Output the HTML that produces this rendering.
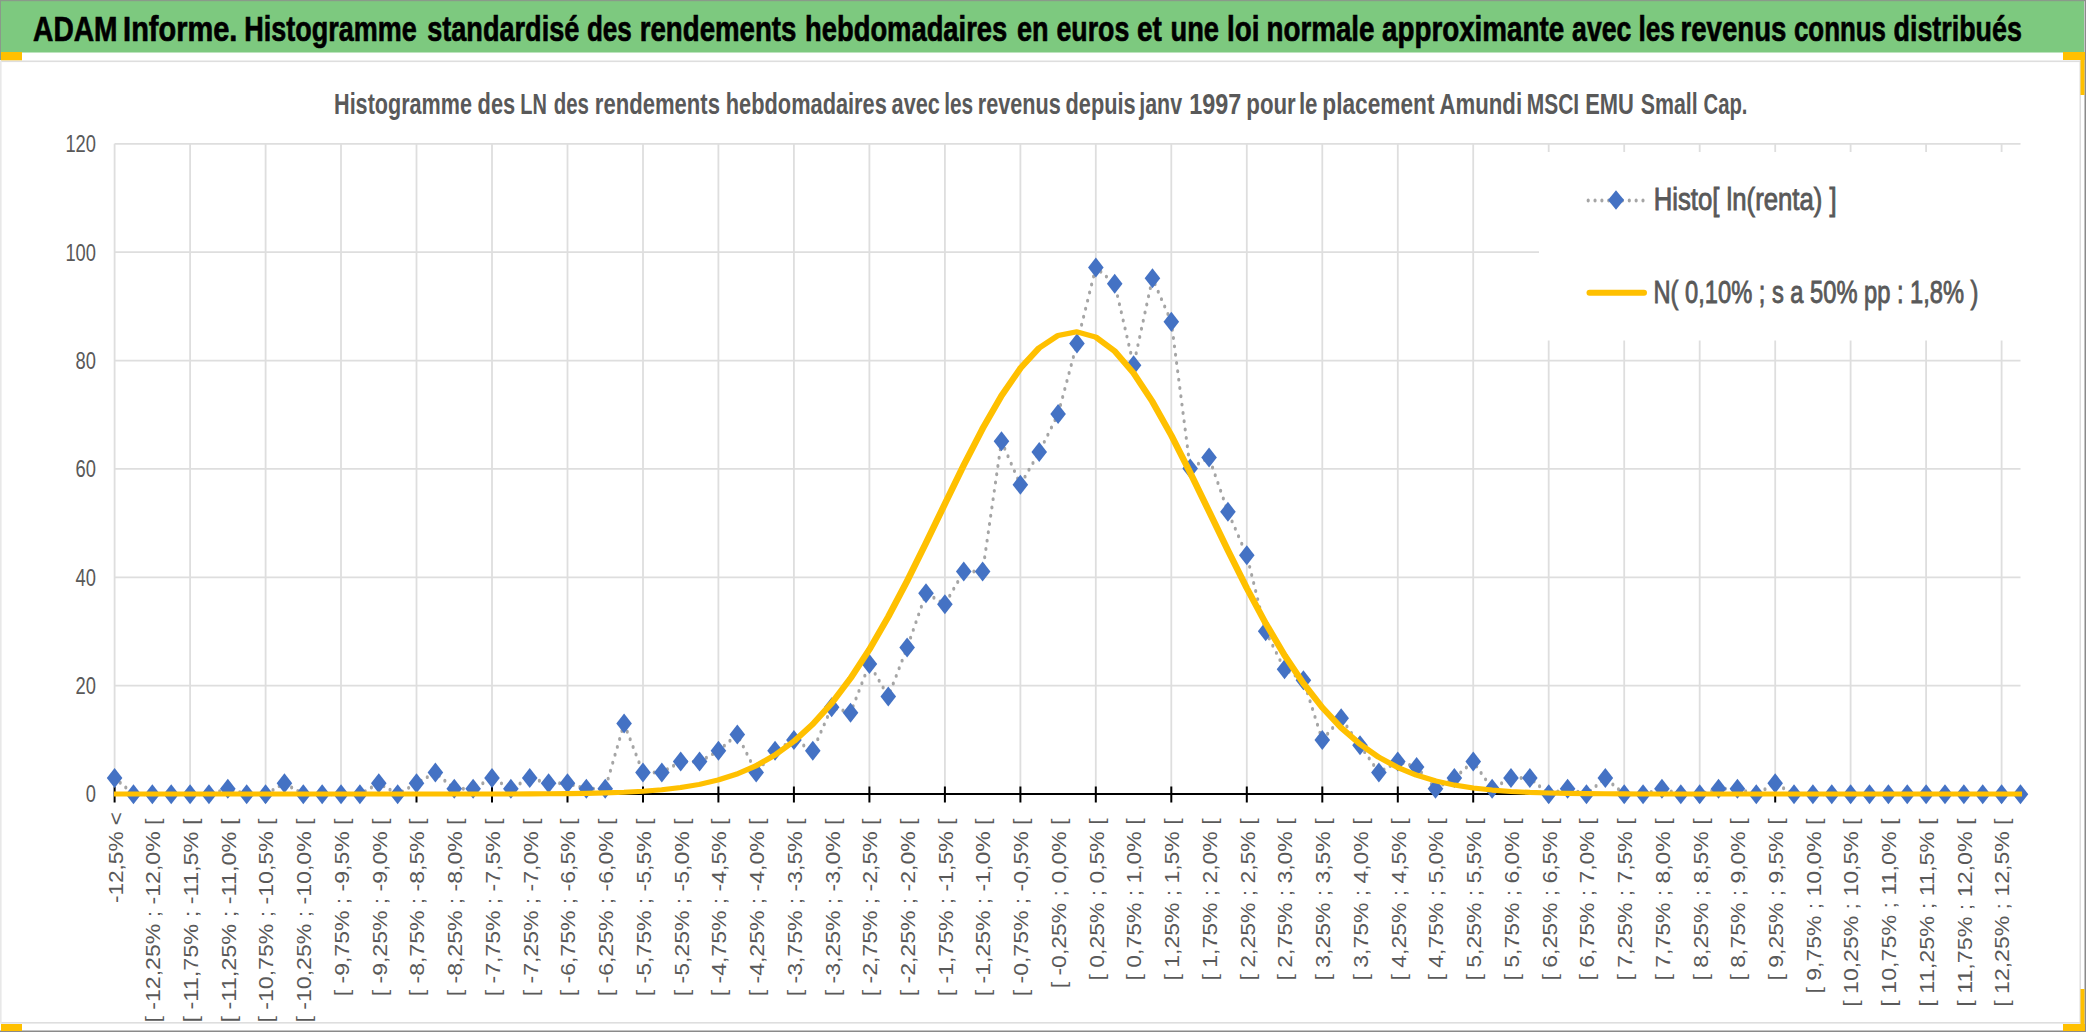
<!DOCTYPE html>
<html><head><meta charset="utf-8"><style>
html,body{margin:0;padding:0;width:2086px;height:1032px;overflow:hidden;background:#fff;font-family:"Liberation Sans",sans-serif;}
</style></head><body>
<svg width="2086" height="1032" viewBox="0 0 2086 1032" style="position:absolute;left:0;top:0">
<rect x="0" y="0" width="2086" height="1032" fill="#ffffff"/>
<rect x="1" y="1" width="2083" height="51.5" fill="#7DC97F"/>
<rect x="0" y="0" width="2086" height="1.2" fill="#8A9A8A"/>
<rect x="0" y="0" width="1" height="60" fill="#8A9A8A"/>
<rect x="2084.5" y="0" width="1.5" height="1032" fill="#8A8A8A"/>
<rect x="0" y="1030.5" width="2086" height="1.5" fill="#8A8A8A"/>
<rect x="1" y="60.5" width="2079.5" height="1.6" fill="#DEDEDE"/>
<rect x="1" y="1022" width="2079.5" height="1.6" fill="#DEDEDE"/>
<rect x="2079.5" y="60.5" width="1.5" height="963" fill="#DEDEDE"/>
<rect x="0" y="60.5" width="1.6" height="963" fill="#E8E8E8"/>
<rect x="1" y="52" width="21" height="8.3" fill="#FFC000"/>
<rect x="2063" y="52" width="22" height="8" fill="#FFC000"/>
<rect x="2080.5" y="52" width="4" height="43" fill="#FFC000"/>
<rect x="1" y="1024" width="21" height="7" fill="#FFC000"/>
<rect x="2063" y="1024" width="22" height="7" fill="#FFC000"/>
<rect x="2080.5" y="989" width="4" height="42" fill="#FFC000"/>
<text x="33.08" y="41.3" font-family="Liberation Sans" font-weight="bold" font-size="35.5" fill="#000" stroke="#000" stroke-width="0.7" textLength="84.42" lengthAdjust="spacingAndGlyphs">ADAM</text>
<text x="123.08" y="41.3" font-family="Liberation Sans" font-weight="bold" font-size="35.5" fill="#000" stroke="#000" stroke-width="0.7" textLength="114.26" lengthAdjust="spacingAndGlyphs">Informe.</text>
<text x="244.34" y="41.3" font-family="Liberation Sans" font-weight="bold" font-size="35.5" fill="#000" stroke="#000" stroke-width="0.7" textLength="172.32" lengthAdjust="spacingAndGlyphs">Histogramme</text>
<text x="427.14" y="41.3" font-family="Liberation Sans" font-weight="bold" font-size="35.5" fill="#000" stroke="#000" stroke-width="0.7" textLength="152.20" lengthAdjust="spacingAndGlyphs">standardisé</text>
<text x="586.92" y="41.3" font-family="Liberation Sans" font-weight="bold" font-size="35.5" fill="#000" stroke="#000" stroke-width="0.7" textLength="44.84" lengthAdjust="spacingAndGlyphs">des</text>
<text x="639.76" y="41.3" font-family="Liberation Sans" font-weight="bold" font-size="35.5" fill="#000" stroke="#000" stroke-width="0.7" textLength="156.64" lengthAdjust="spacingAndGlyphs">rendements</text>
<text x="805.08" y="41.3" font-family="Liberation Sans" font-weight="bold" font-size="35.5" fill="#000" stroke="#000" stroke-width="0.7" textLength="202.16" lengthAdjust="spacingAndGlyphs">hebdomadaires</text>
<text x="1016.92" y="41.3" font-family="Liberation Sans" font-weight="bold" font-size="35.5" fill="#000" stroke="#000" stroke-width="0.7" textLength="31.58" lengthAdjust="spacingAndGlyphs">en</text>
<text x="1056.50" y="41.3" font-family="Liberation Sans" font-weight="bold" font-size="35.5" fill="#000" stroke="#000" stroke-width="0.7" textLength="72.74" lengthAdjust="spacingAndGlyphs">euros</text>
<text x="1136.98" y="41.3" font-family="Liberation Sans" font-weight="bold" font-size="35.5" fill="#000" stroke="#000" stroke-width="0.7" textLength="24.84" lengthAdjust="spacingAndGlyphs">et</text>
<text x="1170.50" y="41.3" font-family="Liberation Sans" font-weight="bold" font-size="35.5" fill="#000" stroke="#000" stroke-width="0.7" textLength="48.48" lengthAdjust="spacingAndGlyphs">une</text>
<text x="1226.98" y="41.3" font-family="Liberation Sans" font-weight="bold" font-size="35.5" fill="#000" stroke="#000" stroke-width="0.7" textLength="32.46" lengthAdjust="spacingAndGlyphs">loi</text>
<text x="1266.50" y="41.3" font-family="Liberation Sans" font-weight="bold" font-size="35.5" fill="#000" stroke="#000" stroke-width="0.7" textLength="108.00" lengthAdjust="spacingAndGlyphs">normale</text>
<text x="1382.02" y="41.3" font-family="Liberation Sans" font-weight="bold" font-size="35.5" fill="#000" stroke="#000" stroke-width="0.7" textLength="182.06" lengthAdjust="spacingAndGlyphs">approximante</text>
<text x="1572.08" y="41.3" font-family="Liberation Sans" font-weight="bold" font-size="35.5" fill="#000" stroke="#000" stroke-width="0.7" textLength="59.26" lengthAdjust="spacingAndGlyphs">avec</text>
<text x="1638.40" y="41.3" font-family="Liberation Sans" font-weight="bold" font-size="35.5" fill="#000" stroke="#000" stroke-width="0.7" textLength="36.42" lengthAdjust="spacingAndGlyphs">les</text>
<text x="1680.50" y="41.3" font-family="Liberation Sans" font-weight="bold" font-size="35.5" fill="#000" stroke="#000" stroke-width="0.7" textLength="105.90" lengthAdjust="spacingAndGlyphs">revenus</text>
<text x="1793.98" y="41.3" font-family="Liberation Sans" font-weight="bold" font-size="35.5" fill="#000" stroke="#000" stroke-width="0.7" textLength="92.00" lengthAdjust="spacingAndGlyphs">connus</text>
<text x="1893.56" y="41.3" font-family="Liberation Sans" font-weight="bold" font-size="35.5" fill="#000" stroke="#000" stroke-width="0.7" textLength="128.30" lengthAdjust="spacingAndGlyphs">distribués</text>
<text x="334.04" y="113.9" font-family="Liberation Sans" font-weight="bold" font-size="28.8" fill="#595959" textLength="137.98" lengthAdjust="spacingAndGlyphs">Histogramme</text>
<text x="477.56" y="113.9" font-family="Liberation Sans" font-weight="bold" font-size="28.8" fill="#595959" textLength="37.64" lengthAdjust="spacingAndGlyphs">des</text>
<text x="520.28" y="113.9" font-family="Liberation Sans" font-weight="bold" font-size="28.8" fill="#595959" textLength="26.58" lengthAdjust="spacingAndGlyphs">LN</text>
<text x="553.70" y="113.9" font-family="Liberation Sans" font-weight="bold" font-size="28.8" fill="#595959" textLength="35.22" lengthAdjust="spacingAndGlyphs">des</text>
<text x="594.80" y="113.9" font-family="Liberation Sans" font-weight="bold" font-size="28.8" fill="#595959" textLength="125.12" lengthAdjust="spacingAndGlyphs">rendements</text>
<text x="725.80" y="113.9" font-family="Liberation Sans" font-weight="bold" font-size="28.8" fill="#595959" textLength="161.02" lengthAdjust="spacingAndGlyphs">hebdomadaires</text>
<text x="891.56" y="113.9" font-family="Liberation Sans" font-weight="bold" font-size="28.8" fill="#595959" textLength="48.36" lengthAdjust="spacingAndGlyphs">avec</text>
<text x="944.18" y="113.9" font-family="Liberation Sans" font-weight="bold" font-size="28.8" fill="#595959" textLength="29.02" lengthAdjust="spacingAndGlyphs">les</text>
<text x="977.80" y="113.9" font-family="Liberation Sans" font-weight="bold" font-size="28.8" fill="#595959" textLength="83.02" lengthAdjust="spacingAndGlyphs">revenus</text>
<text x="1065.56" y="113.9" font-family="Liberation Sans" font-weight="bold" font-size="28.8" fill="#595959" textLength="70.12" lengthAdjust="spacingAndGlyphs">depuis</text>
<text x="1139.26" y="113.9" font-family="Liberation Sans" font-weight="bold" font-size="28.8" fill="#595959" textLength="42.86" lengthAdjust="spacingAndGlyphs">janv</text>
<text x="1189.14" y="113.9" font-family="Liberation Sans" font-weight="bold" font-size="28.8" fill="#595959" textLength="52.06" lengthAdjust="spacingAndGlyphs">1997</text>
<text x="1246.28" y="113.9" font-family="Liberation Sans" font-weight="bold" font-size="28.8" fill="#595959" textLength="49.50" lengthAdjust="spacingAndGlyphs">pour</text>
<text x="1298.90" y="113.9" font-family="Liberation Sans" font-weight="bold" font-size="28.8" fill="#595959" textLength="18.64" lengthAdjust="spacingAndGlyphs">le</text>
<text x="1322.28" y="113.9" font-family="Liberation Sans" font-weight="bold" font-size="28.8" fill="#595959" textLength="112.22" lengthAdjust="spacingAndGlyphs">placement</text>
<text x="1439.46" y="113.9" font-family="Liberation Sans" font-weight="bold" font-size="28.8" fill="#595959" textLength="82.64" lengthAdjust="spacingAndGlyphs">Amundi</text>
<text x="1526.80" y="113.9" font-family="Liberation Sans" font-weight="bold" font-size="28.8" fill="#595959" textLength="52.30" lengthAdjust="spacingAndGlyphs">MSCI</text>
<text x="1585.14" y="113.9" font-family="Liberation Sans" font-weight="bold" font-size="28.8" fill="#595959" textLength="48.68" lengthAdjust="spacingAndGlyphs">EMU</text>
<text x="1640.80" y="113.9" font-family="Liberation Sans" font-weight="bold" font-size="28.8" fill="#595959" textLength="56.92" lengthAdjust="spacingAndGlyphs">Small</text>
<text x="1703.56" y="113.9" font-family="Liberation Sans" font-weight="bold" font-size="28.8" fill="#595959" textLength="43.92" lengthAdjust="spacingAndGlyphs">Cap.</text>
<line x1="114.6" y1="794.0" x2="2020.5" y2="794.0" stroke="#DEDEDE" stroke-width="1.8"/>
<line x1="114.6" y1="685.6" x2="2020.5" y2="685.6" stroke="#DEDEDE" stroke-width="1.8"/>
<line x1="114.6" y1="577.3" x2="2020.5" y2="577.3" stroke="#DEDEDE" stroke-width="1.8"/>
<line x1="114.6" y1="468.9" x2="2020.5" y2="468.9" stroke="#DEDEDE" stroke-width="1.8"/>
<line x1="114.6" y1="360.6" x2="2020.5" y2="360.6" stroke="#DEDEDE" stroke-width="1.8"/>
<line x1="114.6" y1="252.2" x2="2020.5" y2="252.2" stroke="#DEDEDE" stroke-width="1.8"/>
<line x1="114.6" y1="143.8" x2="2020.5" y2="143.8" stroke="#DEDEDE" stroke-width="1.8"/>
<line x1="114.6" y1="143.8" x2="114.6" y2="794.0" stroke="#DEDEDE" stroke-width="1.8"/>
<line x1="190.1" y1="143.8" x2="190.1" y2="794.0" stroke="#DEDEDE" stroke-width="1.8"/>
<line x1="265.6" y1="143.8" x2="265.6" y2="794.0" stroke="#DEDEDE" stroke-width="1.8"/>
<line x1="341.0" y1="143.8" x2="341.0" y2="794.0" stroke="#DEDEDE" stroke-width="1.8"/>
<line x1="416.5" y1="143.8" x2="416.5" y2="794.0" stroke="#DEDEDE" stroke-width="1.8"/>
<line x1="492.0" y1="143.8" x2="492.0" y2="794.0" stroke="#DEDEDE" stroke-width="1.8"/>
<line x1="567.5" y1="143.8" x2="567.5" y2="794.0" stroke="#DEDEDE" stroke-width="1.8"/>
<line x1="643.0" y1="143.8" x2="643.0" y2="794.0" stroke="#DEDEDE" stroke-width="1.8"/>
<line x1="718.4" y1="143.8" x2="718.4" y2="794.0" stroke="#DEDEDE" stroke-width="1.8"/>
<line x1="793.9" y1="143.8" x2="793.9" y2="794.0" stroke="#DEDEDE" stroke-width="1.8"/>
<line x1="869.4" y1="143.8" x2="869.4" y2="794.0" stroke="#DEDEDE" stroke-width="1.8"/>
<line x1="944.9" y1="143.8" x2="944.9" y2="794.0" stroke="#DEDEDE" stroke-width="1.8"/>
<line x1="1020.4" y1="143.8" x2="1020.4" y2="794.0" stroke="#DEDEDE" stroke-width="1.8"/>
<line x1="1095.8" y1="143.8" x2="1095.8" y2="794.0" stroke="#DEDEDE" stroke-width="1.8"/>
<line x1="1171.3" y1="143.8" x2="1171.3" y2="794.0" stroke="#DEDEDE" stroke-width="1.8"/>
<line x1="1246.8" y1="143.8" x2="1246.8" y2="794.0" stroke="#DEDEDE" stroke-width="1.8"/>
<line x1="1322.3" y1="143.8" x2="1322.3" y2="794.0" stroke="#DEDEDE" stroke-width="1.8"/>
<line x1="1397.8" y1="143.8" x2="1397.8" y2="794.0" stroke="#DEDEDE" stroke-width="1.8"/>
<line x1="1473.2" y1="143.8" x2="1473.2" y2="794.0" stroke="#DEDEDE" stroke-width="1.8"/>
<line x1="1548.7" y1="143.8" x2="1548.7" y2="794.0" stroke="#DEDEDE" stroke-width="1.8"/>
<line x1="1624.2" y1="143.8" x2="1624.2" y2="794.0" stroke="#DEDEDE" stroke-width="1.8"/>
<line x1="1699.7" y1="143.8" x2="1699.7" y2="794.0" stroke="#DEDEDE" stroke-width="1.8"/>
<line x1="1775.2" y1="143.8" x2="1775.2" y2="794.0" stroke="#DEDEDE" stroke-width="1.8"/>
<line x1="1850.6" y1="143.8" x2="1850.6" y2="794.0" stroke="#DEDEDE" stroke-width="1.8"/>
<line x1="1926.1" y1="143.8" x2="1926.1" y2="794.0" stroke="#DEDEDE" stroke-width="1.8"/>
<line x1="2001.6" y1="143.8" x2="2001.6" y2="794.0" stroke="#DEDEDE" stroke-width="1.8"/>
<rect x="1539" y="152" width="490" height="188.5" fill="#fff"/>
<text x="96" y="802.4" font-family="Liberation Sans" font-size="23.5" fill="#595959" text-anchor="end" transform="translate(96 0) scale(0.78 1) translate(-96 0)">0</text>
<text x="96" y="694.0" font-family="Liberation Sans" font-size="23.5" fill="#595959" text-anchor="end" transform="translate(96 0) scale(0.78 1) translate(-96 0)">20</text>
<text x="96" y="585.7" font-family="Liberation Sans" font-size="23.5" fill="#595959" text-anchor="end" transform="translate(96 0) scale(0.78 1) translate(-96 0)">40</text>
<text x="96" y="477.3" font-family="Liberation Sans" font-size="23.5" fill="#595959" text-anchor="end" transform="translate(96 0) scale(0.78 1) translate(-96 0)">60</text>
<text x="96" y="369.0" font-family="Liberation Sans" font-size="23.5" fill="#595959" text-anchor="end" transform="translate(96 0) scale(0.78 1) translate(-96 0)">80</text>
<text x="96" y="260.6" font-family="Liberation Sans" font-size="23.5" fill="#595959" text-anchor="end" transform="translate(96 0) scale(0.78 1) translate(-96 0)">100</text>
<text x="96" y="152.2" font-family="Liberation Sans" font-size="23.5" fill="#595959" text-anchor="end" transform="translate(96 0) scale(0.78 1) translate(-96 0)">120</text>
<line x1="114.6" y1="794.0" x2="2020.5" y2="794.0" stroke="#000" stroke-width="2.2"/>
<line x1="114.6" y1="786.5" x2="114.6" y2="802.5" stroke="#000" stroke-width="2"/>
<line x1="190.1" y1="786.5" x2="190.1" y2="802.5" stroke="#000" stroke-width="2"/>
<line x1="265.6" y1="786.5" x2="265.6" y2="802.5" stroke="#000" stroke-width="2"/>
<line x1="341.0" y1="786.5" x2="341.0" y2="802.5" stroke="#000" stroke-width="2"/>
<line x1="416.5" y1="786.5" x2="416.5" y2="802.5" stroke="#000" stroke-width="2"/>
<line x1="492.0" y1="786.5" x2="492.0" y2="802.5" stroke="#000" stroke-width="2"/>
<line x1="567.5" y1="786.5" x2="567.5" y2="802.5" stroke="#000" stroke-width="2"/>
<line x1="643.0" y1="786.5" x2="643.0" y2="802.5" stroke="#000" stroke-width="2"/>
<line x1="718.4" y1="786.5" x2="718.4" y2="802.5" stroke="#000" stroke-width="2"/>
<line x1="793.9" y1="786.5" x2="793.9" y2="802.5" stroke="#000" stroke-width="2"/>
<line x1="869.4" y1="786.5" x2="869.4" y2="802.5" stroke="#000" stroke-width="2"/>
<line x1="944.9" y1="786.5" x2="944.9" y2="802.5" stroke="#000" stroke-width="2"/>
<line x1="1020.4" y1="786.5" x2="1020.4" y2="802.5" stroke="#000" stroke-width="2"/>
<line x1="1095.8" y1="786.5" x2="1095.8" y2="802.5" stroke="#000" stroke-width="2"/>
<line x1="1171.3" y1="786.5" x2="1171.3" y2="802.5" stroke="#000" stroke-width="2"/>
<line x1="1246.8" y1="786.5" x2="1246.8" y2="802.5" stroke="#000" stroke-width="2"/>
<line x1="1322.3" y1="786.5" x2="1322.3" y2="802.5" stroke="#000" stroke-width="2"/>
<line x1="1397.8" y1="786.5" x2="1397.8" y2="802.5" stroke="#000" stroke-width="2"/>
<line x1="1473.2" y1="786.5" x2="1473.2" y2="802.5" stroke="#000" stroke-width="2"/>
<line x1="1548.7" y1="786.5" x2="1548.7" y2="802.5" stroke="#000" stroke-width="2"/>
<line x1="1624.2" y1="786.5" x2="1624.2" y2="802.5" stroke="#000" stroke-width="2"/>
<line x1="1699.7" y1="786.5" x2="1699.7" y2="802.5" stroke="#000" stroke-width="2"/>
<line x1="1775.2" y1="786.5" x2="1775.2" y2="802.5" stroke="#000" stroke-width="2"/>
<line x1="1850.6" y1="786.5" x2="1850.6" y2="802.5" stroke="#000" stroke-width="2"/>
<line x1="1926.1" y1="786.5" x2="1926.1" y2="802.5" stroke="#000" stroke-width="2"/>
<line x1="2001.6" y1="786.5" x2="2001.6" y2="802.5" stroke="#000" stroke-width="2"/>
<text transform="translate(123.4 812.0) rotate(-90)" font-family="Liberation Sans" font-size="19.5" fill="#595959" text-anchor="end" textLength="91.1" lengthAdjust="spacingAndGlyphs">-12,5% <</text>
<text transform="translate(160.1 818.5) rotate(-90)" font-family="Liberation Sans" font-size="19.5" fill="#595959" text-anchor="end" textLength="204.0" lengthAdjust="spacingAndGlyphs">[ -12,25% ; -12,0% [</text>
<text transform="translate(197.9 818.5) rotate(-90)" font-family="Liberation Sans" font-size="19.5" fill="#595959" text-anchor="end" textLength="204.0" lengthAdjust="spacingAndGlyphs">[ -11,75% ; -11,5% [</text>
<text transform="translate(235.6 818.5) rotate(-90)" font-family="Liberation Sans" font-size="19.5" fill="#595959" text-anchor="end" textLength="204.0" lengthAdjust="spacingAndGlyphs">[ -11,25% ; -11,0% [</text>
<text transform="translate(273.4 818.5) rotate(-90)" font-family="Liberation Sans" font-size="19.5" fill="#595959" text-anchor="end" textLength="204.0" lengthAdjust="spacingAndGlyphs">[ -10,75% ; -10,5% [</text>
<text transform="translate(311.1 818.5) rotate(-90)" font-family="Liberation Sans" font-size="19.5" fill="#595959" text-anchor="end" textLength="204.0" lengthAdjust="spacingAndGlyphs">[ -10,25% ; -10,0% [</text>
<text transform="translate(348.8 818.5) rotate(-90)" font-family="Liberation Sans" font-size="19.5" fill="#595959" text-anchor="end" textLength="177.8" lengthAdjust="spacingAndGlyphs">[ -9,75% ; -9,5% [</text>
<text transform="translate(386.6 818.5) rotate(-90)" font-family="Liberation Sans" font-size="19.5" fill="#595959" text-anchor="end" textLength="177.8" lengthAdjust="spacingAndGlyphs">[ -9,25% ; -9,0% [</text>
<text transform="translate(424.3 818.5) rotate(-90)" font-family="Liberation Sans" font-size="19.5" fill="#595959" text-anchor="end" textLength="177.8" lengthAdjust="spacingAndGlyphs">[ -8,75% ; -8,5% [</text>
<text transform="translate(462.1 818.5) rotate(-90)" font-family="Liberation Sans" font-size="19.5" fill="#595959" text-anchor="end" textLength="177.8" lengthAdjust="spacingAndGlyphs">[ -8,25% ; -8,0% [</text>
<text transform="translate(499.8 818.5) rotate(-90)" font-family="Liberation Sans" font-size="19.5" fill="#595959" text-anchor="end" textLength="177.8" lengthAdjust="spacingAndGlyphs">[ -7,75% ; -7,5% [</text>
<text transform="translate(537.5 818.5) rotate(-90)" font-family="Liberation Sans" font-size="19.5" fill="#595959" text-anchor="end" textLength="177.8" lengthAdjust="spacingAndGlyphs">[ -7,25% ; -7,0% [</text>
<text transform="translate(575.3 818.5) rotate(-90)" font-family="Liberation Sans" font-size="19.5" fill="#595959" text-anchor="end" textLength="177.8" lengthAdjust="spacingAndGlyphs">[ -6,75% ; -6,5% [</text>
<text transform="translate(613.0 818.5) rotate(-90)" font-family="Liberation Sans" font-size="19.5" fill="#595959" text-anchor="end" textLength="177.8" lengthAdjust="spacingAndGlyphs">[ -6,25% ; -6,0% [</text>
<text transform="translate(650.8 818.5) rotate(-90)" font-family="Liberation Sans" font-size="19.5" fill="#595959" text-anchor="end" textLength="177.8" lengthAdjust="spacingAndGlyphs">[ -5,75% ; -5,5% [</text>
<text transform="translate(688.5 818.5) rotate(-90)" font-family="Liberation Sans" font-size="19.5" fill="#595959" text-anchor="end" textLength="177.8" lengthAdjust="spacingAndGlyphs">[ -5,25% ; -5,0% [</text>
<text transform="translate(726.2 818.5) rotate(-90)" font-family="Liberation Sans" font-size="19.5" fill="#595959" text-anchor="end" textLength="177.8" lengthAdjust="spacingAndGlyphs">[ -4,75% ; -4,5% [</text>
<text transform="translate(764.0 818.5) rotate(-90)" font-family="Liberation Sans" font-size="19.5" fill="#595959" text-anchor="end" textLength="177.8" lengthAdjust="spacingAndGlyphs">[ -4,25% ; -4,0% [</text>
<text transform="translate(801.7 818.5) rotate(-90)" font-family="Liberation Sans" font-size="19.5" fill="#595959" text-anchor="end" textLength="177.8" lengthAdjust="spacingAndGlyphs">[ -3,75% ; -3,5% [</text>
<text transform="translate(839.5 818.5) rotate(-90)" font-family="Liberation Sans" font-size="19.5" fill="#595959" text-anchor="end" textLength="177.8" lengthAdjust="spacingAndGlyphs">[ -3,25% ; -3,0% [</text>
<text transform="translate(877.2 818.5) rotate(-90)" font-family="Liberation Sans" font-size="19.5" fill="#595959" text-anchor="end" textLength="177.8" lengthAdjust="spacingAndGlyphs">[ -2,75% ; -2,5% [</text>
<text transform="translate(914.9 818.5) rotate(-90)" font-family="Liberation Sans" font-size="19.5" fill="#595959" text-anchor="end" textLength="177.8" lengthAdjust="spacingAndGlyphs">[ -2,25% ; -2,0% [</text>
<text transform="translate(952.7 818.5) rotate(-90)" font-family="Liberation Sans" font-size="19.5" fill="#595959" text-anchor="end" textLength="177.8" lengthAdjust="spacingAndGlyphs">[ -1,75% ; -1,5% [</text>
<text transform="translate(990.4 818.5) rotate(-90)" font-family="Liberation Sans" font-size="19.5" fill="#595959" text-anchor="end" textLength="177.8" lengthAdjust="spacingAndGlyphs">[ -1,25% ; -1,0% [</text>
<text transform="translate(1028.2 818.5) rotate(-90)" font-family="Liberation Sans" font-size="19.5" fill="#595959" text-anchor="end" textLength="177.8" lengthAdjust="spacingAndGlyphs">[ -0,75% ; -0,5% [</text>
<text transform="translate(1065.9 818.5) rotate(-90)" font-family="Liberation Sans" font-size="19.5" fill="#595959" text-anchor="end" textLength="169.8" lengthAdjust="spacingAndGlyphs">[ -0,25% ; 0,0% [</text>
<text transform="translate(1103.6 818.5) rotate(-90)" font-family="Liberation Sans" font-size="19.5" fill="#595959" text-anchor="end" textLength="161.9" lengthAdjust="spacingAndGlyphs">[ 0,25% ; 0,5% [</text>
<text transform="translate(1141.4 818.5) rotate(-90)" font-family="Liberation Sans" font-size="19.5" fill="#595959" text-anchor="end" textLength="161.9" lengthAdjust="spacingAndGlyphs">[ 0,75% ; 1,0% [</text>
<text transform="translate(1179.1 818.5) rotate(-90)" font-family="Liberation Sans" font-size="19.5" fill="#595959" text-anchor="end" textLength="161.9" lengthAdjust="spacingAndGlyphs">[ 1,25% ; 1,5% [</text>
<text transform="translate(1216.9 818.5) rotate(-90)" font-family="Liberation Sans" font-size="19.5" fill="#595959" text-anchor="end" textLength="161.9" lengthAdjust="spacingAndGlyphs">[ 1,75% ; 2,0% [</text>
<text transform="translate(1254.6 818.5) rotate(-90)" font-family="Liberation Sans" font-size="19.5" fill="#595959" text-anchor="end" textLength="161.9" lengthAdjust="spacingAndGlyphs">[ 2,25% ; 2,5% [</text>
<text transform="translate(1292.3 818.5) rotate(-90)" font-family="Liberation Sans" font-size="19.5" fill="#595959" text-anchor="end" textLength="161.9" lengthAdjust="spacingAndGlyphs">[ 2,75% ; 3,0% [</text>
<text transform="translate(1330.1 818.5) rotate(-90)" font-family="Liberation Sans" font-size="19.5" fill="#595959" text-anchor="end" textLength="161.9" lengthAdjust="spacingAndGlyphs">[ 3,25% ; 3,5% [</text>
<text transform="translate(1367.8 818.5) rotate(-90)" font-family="Liberation Sans" font-size="19.5" fill="#595959" text-anchor="end" textLength="161.9" lengthAdjust="spacingAndGlyphs">[ 3,75% ; 4,0% [</text>
<text transform="translate(1405.6 818.5) rotate(-90)" font-family="Liberation Sans" font-size="19.5" fill="#595959" text-anchor="end" textLength="161.9" lengthAdjust="spacingAndGlyphs">[ 4,25% ; 4,5% [</text>
<text transform="translate(1443.3 818.5) rotate(-90)" font-family="Liberation Sans" font-size="19.5" fill="#595959" text-anchor="end" textLength="161.9" lengthAdjust="spacingAndGlyphs">[ 4,75% ; 5,0% [</text>
<text transform="translate(1481.0 818.5) rotate(-90)" font-family="Liberation Sans" font-size="19.5" fill="#595959" text-anchor="end" textLength="161.9" lengthAdjust="spacingAndGlyphs">[ 5,25% ; 5,5% [</text>
<text transform="translate(1518.8 818.5) rotate(-90)" font-family="Liberation Sans" font-size="19.5" fill="#595959" text-anchor="end" textLength="161.9" lengthAdjust="spacingAndGlyphs">[ 5,75% ; 6,0% [</text>
<text transform="translate(1556.5 818.5) rotate(-90)" font-family="Liberation Sans" font-size="19.5" fill="#595959" text-anchor="end" textLength="161.9" lengthAdjust="spacingAndGlyphs">[ 6,25% ; 6,5% [</text>
<text transform="translate(1594.3 818.5) rotate(-90)" font-family="Liberation Sans" font-size="19.5" fill="#595959" text-anchor="end" textLength="161.9" lengthAdjust="spacingAndGlyphs">[ 6,75% ; 7,0% [</text>
<text transform="translate(1632.0 818.5) rotate(-90)" font-family="Liberation Sans" font-size="19.5" fill="#595959" text-anchor="end" textLength="161.9" lengthAdjust="spacingAndGlyphs">[ 7,25% ; 7,5% [</text>
<text transform="translate(1669.7 818.5) rotate(-90)" font-family="Liberation Sans" font-size="19.5" fill="#595959" text-anchor="end" textLength="161.9" lengthAdjust="spacingAndGlyphs">[ 7,75% ; 8,0% [</text>
<text transform="translate(1707.5 818.5) rotate(-90)" font-family="Liberation Sans" font-size="19.5" fill="#595959" text-anchor="end" textLength="161.9" lengthAdjust="spacingAndGlyphs">[ 8,25% ; 8,5% [</text>
<text transform="translate(1745.2 818.5) rotate(-90)" font-family="Liberation Sans" font-size="19.5" fill="#595959" text-anchor="end" textLength="161.9" lengthAdjust="spacingAndGlyphs">[ 8,75% ; 9,0% [</text>
<text transform="translate(1783.0 818.5) rotate(-90)" font-family="Liberation Sans" font-size="19.5" fill="#595959" text-anchor="end" textLength="161.9" lengthAdjust="spacingAndGlyphs">[ 9,25% ; 9,5% [</text>
<text transform="translate(1820.7 818.5) rotate(-90)" font-family="Liberation Sans" font-size="19.5" fill="#595959" text-anchor="end" textLength="175.0" lengthAdjust="spacingAndGlyphs">[ 9,75% ; 10,0% [</text>
<text transform="translate(1858.4 818.5) rotate(-90)" font-family="Liberation Sans" font-size="19.5" fill="#595959" text-anchor="end" textLength="188.2" lengthAdjust="spacingAndGlyphs">[ 10,25% ; 10,5% [</text>
<text transform="translate(1896.2 818.5) rotate(-90)" font-family="Liberation Sans" font-size="19.5" fill="#595959" text-anchor="end" textLength="188.2" lengthAdjust="spacingAndGlyphs">[ 10,75% ; 11,0% [</text>
<text transform="translate(1933.9 818.5) rotate(-90)" font-family="Liberation Sans" font-size="19.5" fill="#595959" text-anchor="end" textLength="188.2" lengthAdjust="spacingAndGlyphs">[ 11,25% ; 11,5% [</text>
<text transform="translate(1971.7 818.5) rotate(-90)" font-family="Liberation Sans" font-size="19.5" fill="#595959" text-anchor="end" textLength="188.2" lengthAdjust="spacingAndGlyphs">[ 11,75% ; 12,0% [</text>
<text transform="translate(2009.4 818.5) rotate(-90)" font-family="Liberation Sans" font-size="19.5" fill="#595959" text-anchor="end" textLength="188.2" lengthAdjust="spacingAndGlyphs">[ 12,25% ; 12,5% [</text>
<g transform="scale(1 1.23)"><polyline points="114.60,632.45 133.47,645.69 152.34,645.69 171.21,645.69 190.08,645.69 208.95,645.69 227.82,641.28 246.69,645.69 265.56,645.69 284.43,636.86 303.30,645.69 322.17,645.69 341.04,645.69 359.91,645.69 378.78,636.86 397.65,645.69 416.52,636.86 435.39,628.03 454.26,641.28 473.13,641.28 492.00,632.45 510.87,641.28 529.74,632.45 548.61,636.86 567.48,636.86 586.35,641.28 605.22,641.28 624.09,588.30 642.96,628.03 661.83,628.03 680.70,619.20 699.57,619.20 718.44,610.37 737.31,597.13 756.18,628.03 775.05,610.37 793.92,601.54 812.79,610.37 831.66,575.06 850.53,579.47 869.40,539.74 888.27,566.23 907.14,526.50 926.01,482.35 944.88,491.18 963.75,464.69 982.62,464.69 1001.49,358.74 1020.36,394.06 1039.23,367.57 1058.10,336.67 1076.97,279.28 1095.84,217.47 1114.71,230.72 1133.58,296.93 1152.45,226.30 1171.32,261.62 1190.19,380.81 1209.06,371.98 1227.93,416.13 1246.80,451.45 1265.67,513.25 1284.54,544.15 1303.41,552.98 1322.28,601.54 1341.15,583.89 1360.02,605.96 1378.89,628.03 1397.76,619.20 1416.63,623.62 1435.50,641.28 1454.37,632.45 1473.24,619.20 1492.11,641.28 1510.98,632.45 1529.85,632.45 1548.72,645.69 1567.59,641.28 1586.46,645.69 1605.33,632.45 1624.20,645.69 1643.07,645.69 1661.94,641.28 1680.81,645.69 1699.68,645.69 1718.55,641.28 1737.42,641.28 1756.29,645.69 1775.16,636.86 1794.03,645.69 1812.90,645.69 1831.77,645.69 1850.64,645.69 1869.51,645.69 1888.38,645.69 1907.25,645.69 1926.12,645.69 1944.99,645.69 1963.86,645.69 1982.73,645.69 2001.60,645.69 2020.47,645.69" fill="none" stroke="#A5A5A5" stroke-width="3.20" stroke-dasharray="0 6.85" stroke-linecap="round"/></g>
<path d="M114.60 767.91L122.40 777.91L114.60 787.91L106.80 777.91Z" fill="#4472C4"/>
<path d="M133.47 784.20L141.27 794.20L133.47 804.20L125.67 794.20Z" fill="#4472C4"/>
<path d="M152.34 784.20L160.14 794.20L152.34 804.20L144.54 794.20Z" fill="#4472C4"/>
<path d="M171.21 784.20L179.01 794.20L171.21 804.20L163.41 794.20Z" fill="#4472C4"/>
<path d="M190.08 784.20L197.88 794.20L190.08 804.20L182.28 794.20Z" fill="#4472C4"/>
<path d="M208.95 784.20L216.75 794.20L208.95 804.20L201.15 794.20Z" fill="#4472C4"/>
<path d="M227.82 778.77L235.62 788.77L227.82 798.77L220.02 788.77Z" fill="#4472C4"/>
<path d="M246.69 784.20L254.49 794.20L246.69 804.20L238.89 794.20Z" fill="#4472C4"/>
<path d="M265.56 784.20L273.36 794.20L265.56 804.20L257.76 794.20Z" fill="#4472C4"/>
<path d="M284.43 773.34L292.23 783.34L284.43 793.34L276.63 783.34Z" fill="#4472C4"/>
<path d="M303.30 784.20L311.10 794.20L303.30 804.20L295.50 794.20Z" fill="#4472C4"/>
<path d="M322.17 784.20L329.97 794.20L322.17 804.20L314.37 794.20Z" fill="#4472C4"/>
<path d="M341.04 784.20L348.84 794.20L341.04 804.20L333.24 794.20Z" fill="#4472C4"/>
<path d="M359.91 784.20L367.71 794.20L359.91 804.20L352.11 794.20Z" fill="#4472C4"/>
<path d="M378.78 773.34L386.58 783.34L378.78 793.34L370.98 783.34Z" fill="#4472C4"/>
<path d="M397.65 784.20L405.45 794.20L397.65 804.20L389.85 794.20Z" fill="#4472C4"/>
<path d="M416.52 773.34L424.32 783.34L416.52 793.34L408.72 783.34Z" fill="#4472C4"/>
<path d="M435.39 762.48L443.19 772.48L435.39 782.48L427.59 772.48Z" fill="#4472C4"/>
<path d="M454.26 778.77L462.06 788.77L454.26 798.77L446.46 788.77Z" fill="#4472C4"/>
<path d="M473.13 778.77L480.93 788.77L473.13 798.77L465.33 788.77Z" fill="#4472C4"/>
<path d="M492.00 767.91L499.80 777.91L492.00 787.91L484.20 777.91Z" fill="#4472C4"/>
<path d="M510.87 778.77L518.67 788.77L510.87 798.77L503.07 788.77Z" fill="#4472C4"/>
<path d="M529.74 767.91L537.54 777.91L529.74 787.91L521.94 777.91Z" fill="#4472C4"/>
<path d="M548.61 773.34L556.41 783.34L548.61 793.34L540.81 783.34Z" fill="#4472C4"/>
<path d="M567.48 773.34L575.28 783.34L567.48 793.34L559.68 783.34Z" fill="#4472C4"/>
<path d="M586.35 778.77L594.15 788.77L586.35 798.77L578.55 788.77Z" fill="#4472C4"/>
<path d="M605.22 778.77L613.02 788.77L605.22 798.77L597.42 788.77Z" fill="#4472C4"/>
<path d="M624.09 713.61L631.89 723.61L624.09 733.61L616.29 723.61Z" fill="#4472C4"/>
<path d="M642.96 762.48L650.76 772.48L642.96 782.48L635.16 772.48Z" fill="#4472C4"/>
<path d="M661.83 762.48L669.63 772.48L661.83 782.48L654.03 772.48Z" fill="#4472C4"/>
<path d="M680.70 751.62L688.50 761.62L680.70 771.62L672.90 761.62Z" fill="#4472C4"/>
<path d="M699.57 751.62L707.37 761.62L699.57 771.62L691.77 761.62Z" fill="#4472C4"/>
<path d="M718.44 740.76L726.24 750.76L718.44 760.76L710.64 750.76Z" fill="#4472C4"/>
<path d="M737.31 724.47L745.11 734.47L737.31 744.47L729.51 734.47Z" fill="#4472C4"/>
<path d="M756.18 762.48L763.98 772.48L756.18 782.48L748.38 772.48Z" fill="#4472C4"/>
<path d="M775.05 740.76L782.85 750.76L775.05 760.76L767.25 750.76Z" fill="#4472C4"/>
<path d="M793.92 729.90L801.72 739.90L793.92 749.90L786.12 739.90Z" fill="#4472C4"/>
<path d="M812.79 740.76L820.59 750.76L812.79 760.76L804.99 750.76Z" fill="#4472C4"/>
<path d="M831.66 697.32L839.46 707.32L831.66 717.32L823.86 707.32Z" fill="#4472C4"/>
<path d="M850.53 702.75L858.33 712.75L850.53 722.75L842.73 712.75Z" fill="#4472C4"/>
<path d="M869.40 653.88L877.20 663.88L869.40 673.88L861.60 663.88Z" fill="#4472C4"/>
<path d="M888.27 686.46L896.07 696.46L888.27 706.46L880.47 696.46Z" fill="#4472C4"/>
<path d="M907.14 637.59L914.94 647.59L907.14 657.59L899.34 647.59Z" fill="#4472C4"/>
<path d="M926.01 583.29L933.81 593.29L926.01 603.29L918.21 593.29Z" fill="#4472C4"/>
<path d="M944.88 594.15L952.68 604.15L944.88 614.15L937.08 604.15Z" fill="#4472C4"/>
<path d="M963.75 561.57L971.55 571.57L963.75 581.57L955.95 571.57Z" fill="#4472C4"/>
<path d="M982.62 561.57L990.42 571.57L982.62 581.57L974.82 571.57Z" fill="#4472C4"/>
<path d="M1001.49 431.25L1009.29 441.25L1001.49 451.25L993.69 441.25Z" fill="#4472C4"/>
<path d="M1020.36 474.69L1028.16 484.69L1020.36 494.69L1012.56 484.69Z" fill="#4472C4"/>
<path d="M1039.23 442.11L1047.03 452.11L1039.23 462.11L1031.43 452.11Z" fill="#4472C4"/>
<path d="M1058.10 404.10L1065.90 414.10L1058.10 424.10L1050.30 414.10Z" fill="#4472C4"/>
<path d="M1076.97 333.51L1084.77 343.51L1076.97 353.51L1069.17 343.51Z" fill="#4472C4"/>
<path d="M1095.84 257.49L1103.64 267.49L1095.84 277.49L1088.04 267.49Z" fill="#4472C4"/>
<path d="M1114.71 273.78L1122.51 283.78L1114.71 293.78L1106.91 283.78Z" fill="#4472C4"/>
<path d="M1133.58 355.23L1141.38 365.23L1133.58 375.23L1125.78 365.23Z" fill="#4472C4"/>
<path d="M1152.45 268.35L1160.25 278.35L1152.45 288.35L1144.65 278.35Z" fill="#4472C4"/>
<path d="M1171.32 311.79L1179.12 321.79L1171.32 331.79L1163.52 321.79Z" fill="#4472C4"/>
<path d="M1190.19 458.40L1197.99 468.40L1190.19 478.40L1182.39 468.40Z" fill="#4472C4"/>
<path d="M1209.06 447.54L1216.86 457.54L1209.06 467.54L1201.26 457.54Z" fill="#4472C4"/>
<path d="M1227.93 501.84L1235.73 511.84L1227.93 521.84L1220.13 511.84Z" fill="#4472C4"/>
<path d="M1246.80 545.28L1254.60 555.28L1246.80 565.28L1239.00 555.28Z" fill="#4472C4"/>
<path d="M1265.67 621.30L1273.47 631.30L1265.67 641.30L1257.87 631.30Z" fill="#4472C4"/>
<path d="M1284.54 659.31L1292.34 669.31L1284.54 679.31L1276.74 669.31Z" fill="#4472C4"/>
<path d="M1303.41 670.17L1311.21 680.17L1303.41 690.17L1295.61 680.17Z" fill="#4472C4"/>
<path d="M1322.28 729.90L1330.08 739.90L1322.28 749.90L1314.48 739.90Z" fill="#4472C4"/>
<path d="M1341.15 708.18L1348.95 718.18L1341.15 728.18L1333.35 718.18Z" fill="#4472C4"/>
<path d="M1360.02 735.33L1367.82 745.33L1360.02 755.33L1352.22 745.33Z" fill="#4472C4"/>
<path d="M1378.89 762.48L1386.69 772.48L1378.89 782.48L1371.09 772.48Z" fill="#4472C4"/>
<path d="M1397.76 751.62L1405.56 761.62L1397.76 771.62L1389.96 761.62Z" fill="#4472C4"/>
<path d="M1416.63 757.05L1424.43 767.05L1416.63 777.05L1408.83 767.05Z" fill="#4472C4"/>
<path d="M1435.50 778.77L1443.30 788.77L1435.50 798.77L1427.70 788.77Z" fill="#4472C4"/>
<path d="M1454.37 767.91L1462.17 777.91L1454.37 787.91L1446.57 777.91Z" fill="#4472C4"/>
<path d="M1473.24 751.62L1481.04 761.62L1473.24 771.62L1465.44 761.62Z" fill="#4472C4"/>
<path d="M1492.11 778.77L1499.91 788.77L1492.11 798.77L1484.31 788.77Z" fill="#4472C4"/>
<path d="M1510.98 767.91L1518.78 777.91L1510.98 787.91L1503.18 777.91Z" fill="#4472C4"/>
<path d="M1529.85 767.91L1537.65 777.91L1529.85 787.91L1522.05 777.91Z" fill="#4472C4"/>
<path d="M1548.72 784.20L1556.52 794.20L1548.72 804.20L1540.92 794.20Z" fill="#4472C4"/>
<path d="M1567.59 778.77L1575.39 788.77L1567.59 798.77L1559.79 788.77Z" fill="#4472C4"/>
<path d="M1586.46 784.20L1594.26 794.20L1586.46 804.20L1578.66 794.20Z" fill="#4472C4"/>
<path d="M1605.33 767.91L1613.13 777.91L1605.33 787.91L1597.53 777.91Z" fill="#4472C4"/>
<path d="M1624.20 784.20L1632.00 794.20L1624.20 804.20L1616.40 794.20Z" fill="#4472C4"/>
<path d="M1643.07 784.20L1650.87 794.20L1643.07 804.20L1635.27 794.20Z" fill="#4472C4"/>
<path d="M1661.94 778.77L1669.74 788.77L1661.94 798.77L1654.14 788.77Z" fill="#4472C4"/>
<path d="M1680.81 784.20L1688.61 794.20L1680.81 804.20L1673.01 794.20Z" fill="#4472C4"/>
<path d="M1699.68 784.20L1707.48 794.20L1699.68 804.20L1691.88 794.20Z" fill="#4472C4"/>
<path d="M1718.55 778.77L1726.35 788.77L1718.55 798.77L1710.75 788.77Z" fill="#4472C4"/>
<path d="M1737.42 778.77L1745.22 788.77L1737.42 798.77L1729.62 788.77Z" fill="#4472C4"/>
<path d="M1756.29 784.20L1764.09 794.20L1756.29 804.20L1748.49 794.20Z" fill="#4472C4"/>
<path d="M1775.16 773.34L1782.96 783.34L1775.16 793.34L1767.36 783.34Z" fill="#4472C4"/>
<path d="M1794.03 784.20L1801.83 794.20L1794.03 804.20L1786.23 794.20Z" fill="#4472C4"/>
<path d="M1812.90 784.20L1820.70 794.20L1812.90 804.20L1805.10 794.20Z" fill="#4472C4"/>
<path d="M1831.77 784.20L1839.57 794.20L1831.77 804.20L1823.97 794.20Z" fill="#4472C4"/>
<path d="M1850.64 784.20L1858.44 794.20L1850.64 804.20L1842.84 794.20Z" fill="#4472C4"/>
<path d="M1869.51 784.20L1877.31 794.20L1869.51 804.20L1861.71 794.20Z" fill="#4472C4"/>
<path d="M1888.38 784.20L1896.18 794.20L1888.38 804.20L1880.58 794.20Z" fill="#4472C4"/>
<path d="M1907.25 784.20L1915.05 794.20L1907.25 804.20L1899.45 794.20Z" fill="#4472C4"/>
<path d="M1926.12 784.20L1933.92 794.20L1926.12 804.20L1918.32 794.20Z" fill="#4472C4"/>
<path d="M1944.99 784.20L1952.79 794.20L1944.99 804.20L1937.19 794.20Z" fill="#4472C4"/>
<path d="M1963.86 784.20L1971.66 794.20L1963.86 804.20L1956.06 794.20Z" fill="#4472C4"/>
<path d="M1982.73 784.20L1990.53 794.20L1982.73 804.20L1974.93 794.20Z" fill="#4472C4"/>
<path d="M2001.60 784.20L2009.40 794.20L2001.60 804.20L1993.80 794.20Z" fill="#4472C4"/>
<path d="M2020.47 784.20L2028.27 794.20L2020.47 804.20L2012.67 794.20Z" fill="#4472C4"/>
<g transform="scale(1 0.75)"><polyline points="114.00,1058.67 133.47,1058.67 152.34,1058.67 171.21,1058.67 190.08,1058.67 208.95,1058.67 227.82,1058.67 246.69,1058.67 265.56,1058.67 284.43,1058.67 303.30,1058.67 322.17,1058.67 341.04,1058.67 359.91,1058.67 378.78,1058.67 397.65,1058.66 416.52,1058.66 435.39,1058.66 454.26,1058.65 473.13,1058.64 492.00,1058.61 510.87,1058.57 529.74,1058.49 548.61,1058.36 567.48,1058.15 586.35,1057.79 605.22,1057.23 624.09,1056.35 642.96,1055.01 661.83,1053.00 680.70,1050.06 699.57,1045.84 718.44,1039.92 737.31,1031.81 756.18,1020.92 775.05,1006.65 793.92,988.38 812.79,965.52 831.66,937.61 850.53,904.39 869.40,865.86 888.27,822.37 907.14,774.68 926.01,723.98 944.88,671.85 963.75,620.26 982.62,571.42 1001.49,527.61 1020.36,491.07 1039.23,463.76 1058.10,447.21 1076.97,442.37 1095.84,449.51 1114.71,468.23 1133.58,497.45 1152.45,535.56 1171.32,580.51 1190.19,630.07 1209.06,681.92 1227.93,733.92 1246.80,784.16 1265.67,831.11 1284.54,873.69 1303.41,911.21 1322.28,943.40 1341.15,970.30 1360.02,992.24 1378.89,1009.70 1397.76,1023.27 1416.63,1033.57 1435.50,1041.22 1454.37,1046.77 1473.24,1050.71 1492.11,1053.45 1510.98,1055.32 1529.85,1056.55 1548.72,1057.36 1567.59,1057.87 1586.46,1058.20 1605.33,1058.39 1624.20,1058.51 1643.07,1058.58 1661.94,1058.62 1680.81,1058.64 1699.68,1058.65 1718.55,1058.66 1737.42,1058.66 1756.29,1058.66 1775.16,1058.67 1794.03,1058.67 1812.90,1058.67 1831.77,1058.67 1850.64,1058.67 1869.51,1058.67 1888.38,1058.67 1907.25,1058.67 1926.12,1058.67 1944.99,1058.67 1963.86,1058.67 1982.73,1058.67 2001.60,1058.67 2022.07,1058.67" fill="none" stroke="#FFC000" stroke-width="6.80" stroke-linejoin="round" stroke-linecap="butt"/></g>
<g transform="scale(1 1.23)"><line x1="1588.2" y1="163.01" x2="1643" y2="163.01" stroke="#A5A5A5" stroke-width="3.20" stroke-dasharray="0 6.85" stroke-linecap="round"/></g>
<path d="M1616 190.3L1624 200L1616 209.7L1608 200Z" fill="#4472C4"/>
<text x="1653.7" y="209.9" font-family="Liberation Sans" font-size="31.5" fill="#595959" stroke="#595959" stroke-width="0.9" textLength="183" lengthAdjust="spacingAndGlyphs">Histo[ ln(renta) ]</text>
<line x1="1589.5" y1="292.8" x2="1644" y2="292.8" stroke="#FFC000" stroke-width="6" stroke-linecap="round"/>
<text x="1653.5" y="302.6" font-family="Liberation Sans" font-size="31.5" fill="#595959" stroke="#595959" stroke-width="0.9" textLength="325" lengthAdjust="spacingAndGlyphs">N( 0,10% ; s a 50% pp : 1,8% )</text>
</svg>
</body></html>
